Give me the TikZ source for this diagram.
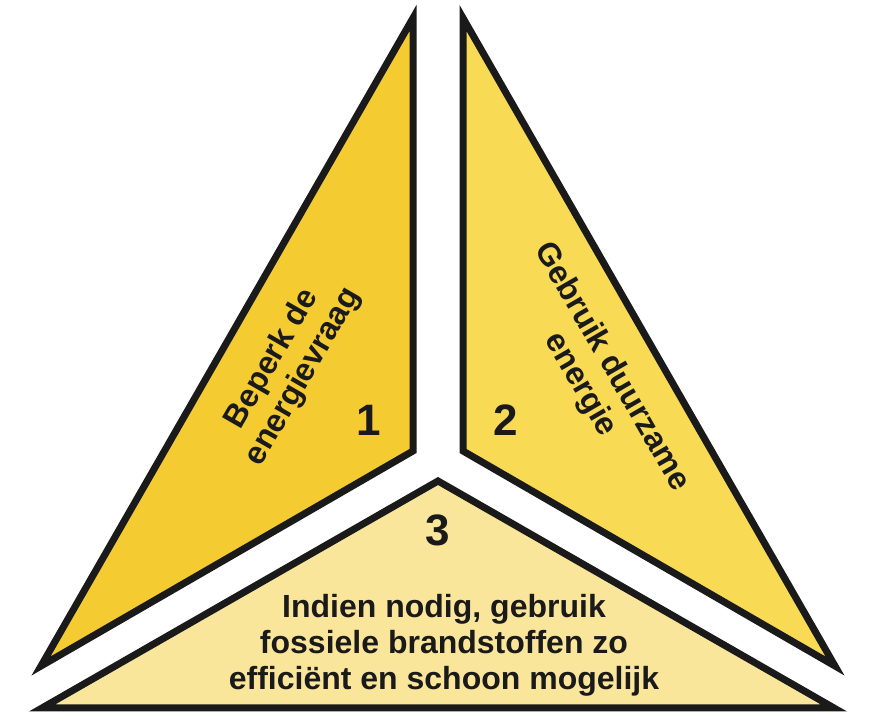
\documentclass[tikz,border=0pt]{standalone}
\usepackage{fontspec}
\setmainfont{Liberation Sans}
\usepackage{tikz}

\definecolor{geel1}{HTML}{F5CB32}
\definecolor{geel2}{HTML}{F8DA55}
\definecolor{geel3}{HTML}{FAE69B}
\definecolor{tekst}{HTML}{1A1A1A}

\begin{document}
\begin{tikzpicture}[x=1pt,y=1pt,
	vlak/.style={draw=tekst, line width=7pt, line join=miter},
	opschrift/.style={text=tekst, font=\fontsize{32}{36}\selectfont\bfseries, align=center, inner sep=0pt},
	cijfer/.style={text=tekst, font=\fontsize{44}{44}\selectfont\bfseries, inner sep=0pt}]

	\useasboundingbox (0,0) rectangle (871,718);

	\coordinate (a0) at (413,700);
	\coordinate (a1) at (413,267);
	\coordinate (a2) at (41,52);

	\coordinate (b0) at (463,700);
	\coordinate (b1) at (463,267);
	\coordinate (b2) at (835,52);

	\coordinate (c0) at (438,237);
	\coordinate (c1) at (42,10);
	\coordinate (c2) at (834,10);

	\draw[vlak, fill=geel1] (a0) -- (a1) -- (a2) -- cycle;
	\draw[vlak, fill=geel2] (b0) -- (b1) -- (b2) -- cycle;
	\draw[vlak, fill=geel3] (c0) -- (c1) -- (c2) -- cycle;

	\node (t1) [opschrift, rotate=60] at (288,350) {Beperk de\\energievraag};
	\node (t2) [opschrift, rotate=-60] at (596,342) {Gebruik duurzame\\energie};
	\node (t3) [opschrift] at (444,73) {Indien nodig, gebruik\\fossiele brandstoffen zo\\efficiënt en schoon mogelijk};

	\node (n1) [cijfer] at (369,298) {1};
	\node (n2) [cijfer] at (506,298) {2};
	\node (n3) [cijfer] at (438,188) {3};

\end{tikzpicture}
\end{document}
